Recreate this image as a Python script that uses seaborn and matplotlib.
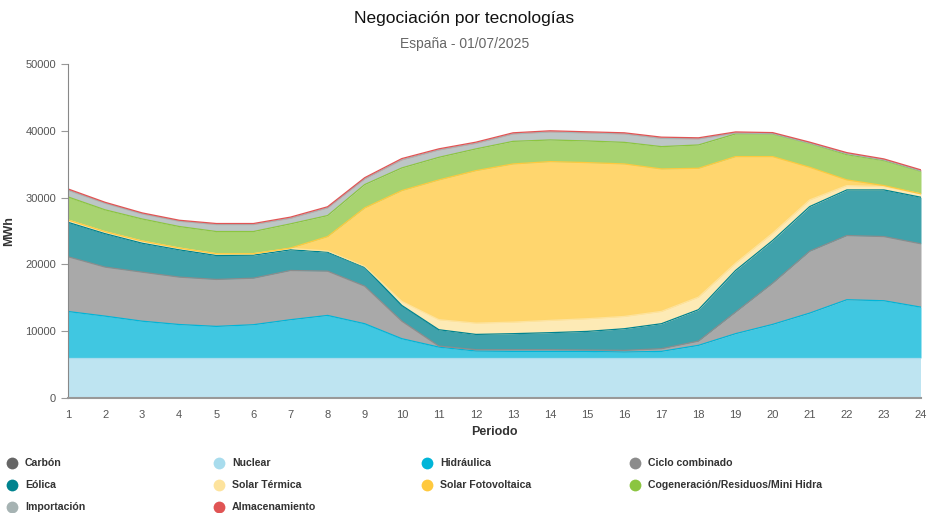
import numpy as np
import pandas as pd
import matplotlib
matplotlib.use("Agg")
import matplotlib.pyplot as plt
import seaborn as sns
from matplotlib.lines import Line2D

# Periods (hours) and MWh per technology
periodos = list(range(1, 25))

carbon = [0] * 24
nuclear = [6000] * 24
hidraulica = [6950, 6260, 5500, 5000, 4720, 4970, 5720, 6360, 5120, 2880, 1620, 1030,
              980, 980, 980, 880, 980, 1880, 3630, 5020, 6710, 8710, 8560, 7600]
ciclo_combinado = [8200, 7340, 7340, 7100, 7030, 6970, 7370, 6630, 5630, 2630, 150, 200,
                   250, 250, 200, 250, 400, 640, 3230, 6170, 9270, 9610, 9610, 9480]
eolica = [5150, 5000, 4330, 4080, 3580, 3440, 3090, 2840, 2840, 2350, 2450, 2290,
          2400, 2550, 2790, 3240, 3740, 4700, 6230, 6390, 6680, 6830, 6980, 6970]
solar_termica = [350, 300, 330, 270, 270, 220, 220, 170, 110, 600, 1500, 1690,
                 1730, 1840, 1900, 1840, 1840, 1880, 1090, 1090, 1000, 650, 500, 510]
solar_fv = [0, 0, 0, 0, 0, 0, 50, 2170, 8760, 16590, 20930, 22830,
            23680, 23770, 23370, 22830, 21330, 19290, 15960, 11470, 4880, 850, 150, 0]
cogeneracion = [3450, 3270, 3300, 3220, 3320, 3320, 3620, 3140, 3490, 3390, 3380, 3250,
                3380, 3240, 3240, 3230, 3340, 3490, 3390, 3390, 3580, 3780, 3740, 3380]
importacion = [1000, 980, 760, 790, 1050, 1050, 830, 1150, 850, 1200, 1100, 830,
               1110, 1200, 1200, 1260, 1240, 900, 150, 50, 30, 150, 100, 60]
almacenamiento = [200, 150, 150, 150, 150, 150, 180, 170, 180, 200, 170, 180,
                  170, 170, 170, 170, 180, 170, 150, 150, 150, 150, 150, 150]

tecnologias = ["Carbón", "Nuclear", "Hidráulica", "Ciclo combinado", "Eólica",
               "Solar Térmica", "Solar Fotovoltaica", "Cogeneración/Residuos/Mini Hidra",
               "Importación", "Almacenamiento"]
colores = ["#666666", "#a8dced", "#00b5d8", "#8c8c8c", "#00838f",
           "#fde39d", "#ffc93e", "#8bc540", "#a6b3b3", "#e05454"]

series = [carbon, nuclear, hidraulica, ciclo_combinado, eolica, solar_termica,
          solar_fv, cogeneracion, importacion, almacenamiento]

df = pd.DataFrame(dict(zip(tecnologias, series)), index=periodos)
df.index.name = "Periodo"

sns.set_theme(style="white")
plt.rcParams['font.family'] = ['Liberation Sans', 'DejaVu Sans']

fig = plt.figure(figsize=(9.29, 5.13), dpi=100)
ax = fig.add_axes([68 / 929, 1 - 398 / 513, (921 - 68) / 929, (398 - 64) / 513])

# stacked areas
ax.stackplot(df.index, df.T.values, colors=colores, alpha=0.75, linewidth=0)

# top edge of each layer
cum = df.cumsum(axis=1)
for tec, col in zip(tecnologias, colores):
    if df[tec].sum() == 0:
        continue
    sns.lineplot(x=cum.index, y=cum[tec], ax=ax, color=col, linewidth=0.9, legend=False)

ax.set_xlim(1, 24)
ax.set_ylim(0, 50000)

ax.set_xticks(periodos)
ax.set_xticks(np.arange(1.5, 24, 1), minor=True)
ax.set_yticks(range(0, 50001, 10000))
ax.tick_params(axis='x', which='major', length=0, pad=9, labelsize=8, labelcolor='#555555')
ax.tick_params(axis='x', which='minor', length=5, width=0.8, color='#999999', direction='out')
ax.tick_params(axis='y', which='major', length=5, width=0.8, color='#999999', direction='out',
               labelsize=8, labelcolor='#555555', left=True)

for s in ['top', 'right']:
    ax.spines[s].set_visible(False)
ax.spines['left'].set_color('#888888')
ax.spines['left'].set_linewidth(0.8)
ax.spines['bottom'].set_color('#999999')
ax.spines['bottom'].set_linewidth(1.5)

ax.set_xlabel("Periodo", fontsize=9, fontweight='bold', color='#333333')
ax.xaxis.set_label_coords(0.5, -0.085)
ax.set_ylabel("MWh", fontsize=9, fontweight='bold', color='#333333')
ax.yaxis.set_label_coords(-0.062, 0.5)

fig.text(0.5, 1 - 19 / 513, "Negociación por tecnologías", ha='center', va='center',
         fontsize=12.5, color='#111111')
fig.text(0.5, 1 - 44 / 513, "España - 01/07/2025", ha='center', va='center',
         fontsize=10, color='#666666')

# legend laid out as in the reference: 4 columns, row by row
col_x = [12, 219, 427, 635]
row_y = [463, 485, 507]
for i, (tec, col) in enumerate(zip(tecnologias, colores)):
    r, c = divmod(i, 4)
    x = col_x[c] / 929
    y = 1 - row_y[r] / 513
    fig.add_artist(Line2D([x], [y], marker='o', markersize=8.5, color=col,
                          markeredgewidth=0, linestyle='none', transform=fig.transFigure))
    fig.text(x + 13 / 929, y, tec, ha='left', va='center', fontsize=7.6,
             fontweight='bold', color='#333333')

fig.savefig("out.png", dpi=100, facecolor='white')
